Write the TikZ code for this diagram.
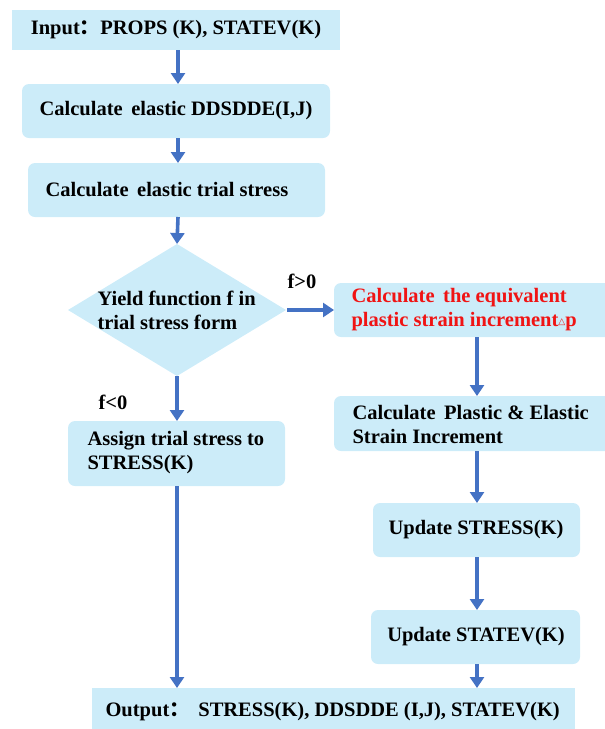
\documentclass[tikz,border=0pt]{standalone}
\usepackage{fontspec}
\setmainfont{Liberation Serif}
\newfontfamily\symfont{DejaVu Sans}
\newfontfamily\cjkfont{Noto Sans CJK SC}
\newcommand{\fwcolon}{{\cjkfont ：}}
\usetikzlibrary{shapes.geometric,arrows.meta}
\definecolor{boxfill}{RGB}{204,236,249}
\definecolor{arrowblue}{RGB}{68,114,196}
\definecolor{redtext}{RGB}{240,20,20}
\begin{document}
\begin{tikzpicture}[x=1pt,y=-1pt,
  txt/.style={font=\bfseries\fontsize{20.5}{24}\selectfont},
  sqbox/.style={fill=boxfill,draw=none,inner sep=0pt},
  rbox/.style={fill=boxfill,draw=none,rounded corners=7pt,inner sep=0pt},
  arr/.style={draw=arrowblue,line width=3.6pt,-{Triangle[length=11pt,width=14pt]}}]
\useasboundingbox (0,0) rectangle (605,729);
% boxes
\path[sqbox] (12,10) rectangle (340,50);
\node[txt,anchor=center] (inp) at (176,30) {Input\fwcolon PROPS (K), STATEV(K)};
\coordinate (inpB) at (178,50);
\path[rbox] (22,84) rectangle (330,138);
\node[txt] (b2) at (176,111) {Calculate\, elastic DDSDDE(I,J)};
\coordinate (b2T) at (178,84); \coordinate (b2B) at (178,138);
\path[rbox] (28,163) rectangle (325,217);
\node[txt,anchor=west] (b3) at (42,190) {Calculate\, elastic trial stress};
\coordinate (b3T) at (178,163); \coordinate (b3B) at (178,217);
% diamond
\path[fill=boxfill] (177,244) -- (286,310) -- (177,376) -- (68,310) -- cycle;
\node[txt,align=left,anchor=west] (dia) at (94,310) {Yield function f in\\trial stress form};
\coordinate (dT) at (177,244); \coordinate (dR) at (287,310); \coordinate (dB) at (177,376);
% red box
\path[rbox] (334,283) rectangle (620,337);
\node[txt,align=left,anchor=west,text=redtext] (red) at (348,310) {Calculate\, the equivalent\\plastic strain increment{\symfont\fontsize{9}{9}\selectfont\raisebox{2pt}{△}}p};
\coordinate (rL) at (334,310); \coordinate (rB) at (477,337);
% plastic elastic
\path[rbox] (334,396) rectangle (620,451);
\node[txt,align=left,anchor=west] (pe) at (349,424) {Calculate\, Plastic \& Elastic\\Strain Increment};
\coordinate (peT) at (477,396); \coordinate (peB) at (477,451);
% update stress
\path[rbox] (373,503) rectangle (580,557);
\node[txt] (us) at (476,530) {Update STRESS(K)};
\coordinate (usT) at (477,503); \coordinate (usB) at (477,557);
% update statev
\path[rbox] (371,610) rectangle (580,664);
\node[txt] (uv) at (476,637) {Update STATEV(K)};
\coordinate (uvT) at (477,610); \coordinate (uvB) at (477,664);
% assign
\path[rbox] (68,421) rectangle (285,486);
\node[txt,align=left,anchor=west] (as) at (84,453) {Assign trial stress to\\STRESS(K)};
\coordinate (asT) at (177,421); \coordinate (asB) at (177,486);
% output
\path[sqbox] (92,688) rectangle (575,735);
\node[txt,anchor=west] (out) at (102,712) {Output\fwcolon\, STRESS(K), DDSDDE (I,J), STATEV(K)};
\coordinate (oL) at (177,688); \coordinate (oR) at (477,688);
% labels
\node[txt] (gt) at (302,281) {f>0};
\node[txt] (lt) at (113,402) {f<0};
% arrows
\draw[arr] (inpB) -- (b2T);
\draw[arr] (b2B) -- (b3T);
\draw[arr] (b3B) -- (dT);
\draw[arr] (dR) -- (rL);
\draw[arr] (dB) -- (asT);
\draw[arr] (asB) -- (oL);
\draw[arr] (rB) -- (peT);
\draw[arr] (peB) -- (usT);
\draw[arr] (usB) -- (uvT);
\draw[arr] (uvB) -- (oR);
\end{tikzpicture}
\end{document}
